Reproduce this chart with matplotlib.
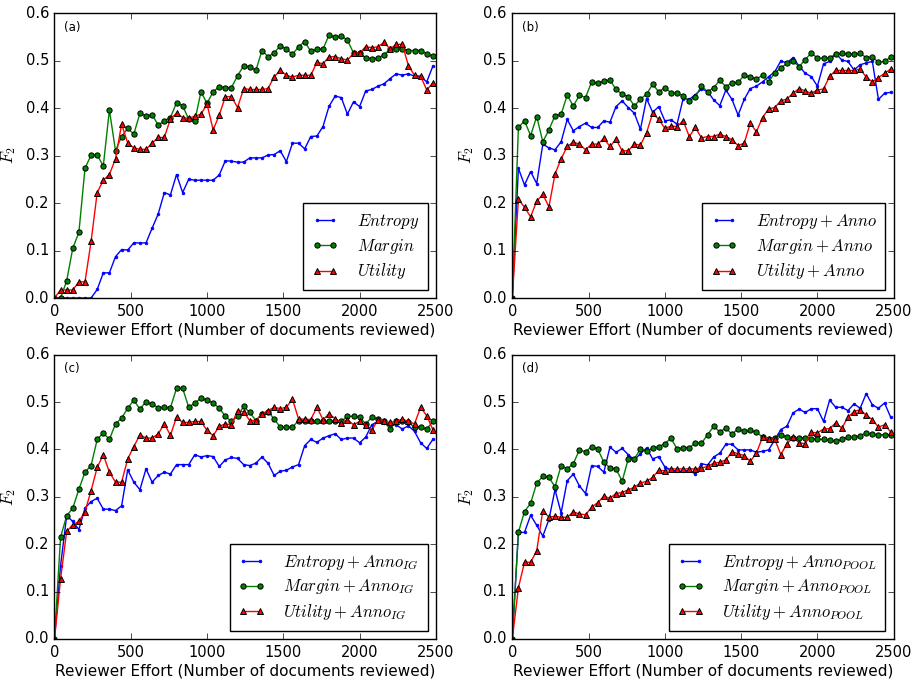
import numpy as np
import matplotlib
matplotlib.use("Agg")
import matplotlib.pyplot as plt

# x positions: number of documents reviewed
x_docs = np.arange(0, 2500, 40)

a_entropy = [0, 0, 0, 0, 0, 0, 0, 0.018, 0.053, 0.053, 0.087, 0.102, 0.101, 0.116, 0.116, 0.116, 0.147, 0.177, 0.222, 0.217, 0.26, 0.222, 0.25, 0.248, 0.248, 0.248, 0.248, 0.259, 0.289, 0.288, 0.286, 0.286, 0.295, 0.295, 0.295, 0.301, 0.302, 0.31, 0.287, 0.326, 0.326, 0.314, 0.34, 0.341, 0.361, 0.404, 0.425, 0.422, 0.387, 0.413, 0.403, 0.436, 0.439, 0.446, 0.451, 0.462, 0.472, 0.469, 0.472, 0.467, 0.466, 0.455, 0.488]
a_margin = [0, 0.0, 0.036, 0.105, 0.138, 0.273, 0.301, 0.301, 0.278, 0.396, 0.31, 0.34, 0.357, 0.345, 0.389, 0.383, 0.386, 0.364, 0.373, 0.38, 0.411, 0.405, 0.376, 0.373, 0.434, 0.41, 0.434, 0.445, 0.443, 0.443, 0.468, 0.489, 0.487, 0.479, 0.521, 0.508, 0.516, 0.531, 0.524, 0.513, 0.529, 0.540, 0.519, 0.524, 0.524, 0.554, 0.549, 0.552, 0.543, 0.516, 0.516, 0.506, 0.504, 0.505, 0.512, 0.524, 0.524, 0.524, 0.521, 0.521, 0.521, 0.514, 0.509]
a_utility = [0, 0.017, 0.017, 0.017, 0.034, 0.034, 0.119, 0.222, 0.248, 0.26, 0.293, 0.366, 0.326, 0.316, 0.313, 0.313, 0.326, 0.338, 0.338, 0.377, 0.389, 0.380, 0.378, 0.383, 0.387, 0.408, 0.354, 0.385, 0.424, 0.424, 0.401, 0.441, 0.439, 0.439, 0.439, 0.441, 0.466, 0.479, 0.469, 0.465, 0.469, 0.469, 0.469, 0.496, 0.493, 0.508, 0.508, 0.504, 0.501, 0.515, 0.516, 0.529, 0.527, 0.529, 0.538, 0.524, 0.534, 0.534, 0.489, 0.469, 0.467, 0.438, 0.453]

b_entropy = [0, 0.273, 0.238, 0.266, 0.241, 0.324, 0.316, 0.312, 0.329, 0.376, 0.352, 0.361, 0.368, 0.359, 0.359, 0.373, 0.37, 0.403, 0.415, 0.401, 0.389, 0.355, 0.42, 0.391, 0.403, 0.373, 0.375, 0.366, 0.42, 0.418, 0.428, 0.44, 0.435, 0.417, 0.405, 0.438, 0.418, 0.385, 0.418, 0.441, 0.446, 0.455, 0.466, 0.476, 0.499, 0.495, 0.506, 0.488, 0.473, 0.466, 0.446, 0.493, 0.498, 0.515, 0.501, 0.498, 0.48, 0.491, 0.495, 0.498, 0.418, 0.431, 0.433]
b_margin = [0, 0.359, 0.373, 0.342, 0.382, 0.329, 0.354, 0.384, 0.387, 0.427, 0.404, 0.427, 0.422, 0.455, 0.452, 0.457, 0.459, 0.439, 0.429, 0.424, 0.404, 0.419, 0.429, 0.45, 0.434, 0.443, 0.432, 0.431, 0.426, 0.415, 0.423, 0.447, 0.434, 0.443, 0.458, 0.445, 0.453, 0.454, 0.469, 0.465, 0.461, 0.469, 0.455, 0.474, 0.484, 0.494, 0.499, 0.487, 0.502, 0.516, 0.505, 0.505, 0.505, 0.514, 0.515, 0.514, 0.514, 0.515, 0.506, 0.508, 0.496, 0.498, 0.507]
b_utility = [0, 0.208, 0.191, 0.171, 0.204, 0.218, 0.192, 0.261, 0.293, 0.319, 0.328, 0.324, 0.312, 0.324, 0.324, 0.336, 0.319, 0.334, 0.31, 0.31, 0.324, 0.322, 0.348, 0.389, 0.376, 0.357, 0.362, 0.361, 0.373, 0.34, 0.359, 0.337, 0.34, 0.34, 0.345, 0.34, 0.333, 0.321, 0.326, 0.368, 0.35, 0.38, 0.398, 0.401, 0.415, 0.419, 0.431, 0.441, 0.436, 0.431, 0.438, 0.44, 0.467, 0.479, 0.479, 0.479, 0.479, 0.482, 0.465, 0.455, 0.464, 0.473, 0.482]

c_entropy = [0, 0.155, 0.26, 0.248, 0.231, 0.276, 0.29, 0.297, 0.274, 0.274, 0.271, 0.281, 0.357, 0.331, 0.315, 0.359, 0.331, 0.345, 0.352, 0.348, 0.368, 0.368, 0.368, 0.389, 0.384, 0.387, 0.385, 0.364, 0.378, 0.383, 0.381, 0.368, 0.366, 0.371, 0.384, 0.371, 0.345, 0.354, 0.356, 0.363, 0.368, 0.408, 0.421, 0.415, 0.424, 0.429, 0.433, 0.421, 0.424, 0.424, 0.414, 0.426, 0.452, 0.459, 0.456, 0.452, 0.452, 0.443, 0.45, 0.438, 0.414, 0.402, 0.421]
c_margin = [0, 0.215, 0.26, 0.276, 0.316, 0.352, 0.366, 0.421, 0.435, 0.421, 0.454, 0.466, 0.487, 0.504, 0.485, 0.501, 0.496, 0.488, 0.489, 0.488, 0.529, 0.529, 0.489, 0.498, 0.508, 0.504, 0.498, 0.487, 0.47, 0.459, 0.47, 0.491, 0.478, 0.461, 0.475, 0.48, 0.464, 0.447, 0.447, 0.447, 0.461, 0.461, 0.461, 0.459, 0.459, 0.459, 0.459, 0.459, 0.47, 0.47, 0.468, 0.454, 0.468, 0.464, 0.459, 0.443, 0.459, 0.461, 0.457, 0.447, 0.447, 0.443, 0.459]
c_utility = [0, 0.127, 0.227, 0.241, 0.248, 0.269, 0.313, 0.362, 0.389, 0.352, 0.331, 0.331, 0.38, 0.406, 0.431, 0.424, 0.424, 0.433, 0.454, 0.43, 0.468, 0.457, 0.457, 0.459, 0.459, 0.44, 0.429, 0.449, 0.454, 0.452, 0.482, 0.479, 0.461, 0.461, 0.475, 0.482, 0.489, 0.486, 0.489, 0.506, 0.464, 0.464, 0.463, 0.489, 0.463, 0.475, 0.465, 0.456, 0.463, 0.452, 0.459, 0.452, 0.44, 0.463, 0.459, 0.457, 0.459, 0.464, 0.459, 0.454, 0.489, 0.471, 0.442]

d_entropy = [0, 0.225, 0.225, 0.261, 0.24, 0.217, 0.252, 0.315, 0.266, 0.334, 0.348, 0.323, 0.307, 0.366, 0.364, 0.352, 0.405, 0.394, 0.402, 0.389, 0.378, 0.391, 0.403, 0.38, 0.385, 0.363, 0.357, 0.354, 0.354, 0.356, 0.348, 0.37, 0.367, 0.384, 0.392, 0.411, 0.411, 0.399, 0.399, 0.399, 0.394, 0.396, 0.399, 0.42, 0.442, 0.449, 0.477, 0.485, 0.478, 0.486, 0.486, 0.459, 0.504, 0.489, 0.489, 0.482, 0.496, 0.487, 0.518, 0.494, 0.487, 0.498, 0.468]
d_margin = [0, 0.225, 0.269, 0.286, 0.329, 0.343, 0.341, 0.321, 0.366, 0.359, 0.37, 0.399, 0.395, 0.406, 0.401, 0.373, 0.361, 0.359, 0.333, 0.38, 0.38, 0.401, 0.396, 0.403, 0.406, 0.412, 0.424, 0.401, 0.404, 0.404, 0.413, 0.413, 0.431, 0.449, 0.437, 0.445, 0.432, 0.444, 0.438, 0.44, 0.437, 0.426, 0.421, 0.425, 0.431, 0.426, 0.424, 0.424, 0.424, 0.422, 0.422, 0.421, 0.419, 0.417, 0.421, 0.426, 0.426, 0.429, 0.435, 0.432, 0.431, 0.431, 0.431]
d_utility = [0, 0.108, 0.162, 0.162, 0.186, 0.271, 0.257, 0.259, 0.257, 0.257, 0.268, 0.264, 0.262, 0.278, 0.288, 0.301, 0.297, 0.307, 0.309, 0.315, 0.32, 0.329, 0.333, 0.341, 0.356, 0.355, 0.359, 0.359, 0.359, 0.359, 0.359, 0.361, 0.364, 0.371, 0.373, 0.378, 0.395, 0.391, 0.387, 0.375, 0.392, 0.426, 0.422, 0.422, 0.389, 0.412, 0.426, 0.414, 0.412, 0.436, 0.435, 0.443, 0.444, 0.456, 0.445, 0.468, 0.48, 0.484, 0.472, 0.463, 0.447, 0.452, 0.437]

panel_tags = ["(a)", "(b)", "(c)", "(d)"]
suffixes = ["", "+ Anno", "+ Anno_{IG}", "+ Anno_{POOL}"]
methods = ["Entropy", "Margin", "Utility"]
y_ticks = [0.0, 0.1, 0.2, 0.3, 0.4, 0.5, 0.6]
x_ticks = [0, 500, 1000, 1500, 2000, 2500]
xlabel = "Reviewer Effort (Number of documents reviewed)"

panels = [
    (a_entropy, a_margin, a_utility),
    (b_entropy, b_margin, b_utility),
    (c_entropy, c_margin, c_utility),
    (d_entropy, d_margin, d_utility),
]

plt.style.use("classic")
plt.rcParams["mathtext.fontset"] = "cm"
plt.rcParams["font.family"] = ["DejaVu Sans"]

fig = plt.figure(figsize=(9.14, 6.81), dpi=100, facecolor="white")

positions = [
    [0.0596, 0.5624, 0.4173, 0.4185],
    [0.5605, 0.5624, 0.4173, 0.4185],
    [0.0596, 0.0617, 0.4173, 0.4175],
    [0.5605, 0.0617, 0.4173, 0.4175],
]

styles = [
    dict(color="b", marker=".", markersize=4, markeredgecolor="b"),
    dict(color="g", marker="o", markersize=3.8, markerfacecolor="g", markeredgecolor="k", markeredgewidth=0.7),
    dict(color="r", marker="^", markersize=4.2, markerfacecolor="r", markeredgecolor="k", markeredgewidth=0.7),
]

for k, (pos, series) in enumerate(zip(positions, panels)):
    ax = fig.add_axes(pos)
    for name, vals, st in zip(methods, series, styles):
        if suffixes[k]:
            lab = r"$%s %s$" % (name, suffixes[k])
        else:
            lab = r"$%s$" % name
        ax.plot(x_docs, vals, linewidth=1.0, label=lab, **st)
    ax.set_xlim(0, 2500)
    ax.set_ylim(0, 0.6)
    ax.set_xticks(x_ticks)
    ax.set_yticks(y_ticks)
    ax.tick_params(labelsize=10.5)
    ax.set_xlabel(xlabel, fontsize=11, labelpad=3)
    ax.set_ylabel(r"$F_2$", fontsize=12)
    ax.text(0.025, 0.95, panel_tags[k], transform=ax.transAxes, fontsize=8.5, va="center", ha="left")
    ax.legend(loc="lower right", fontsize=12, numpoints=2, fancybox=False,
              borderaxespad=0.5, labelspacing=0.35, handlelength=1.6,
              handletextpad=1.1, borderpad=0.5)

fig.savefig("out.png", dpi=100, facecolor="white")
